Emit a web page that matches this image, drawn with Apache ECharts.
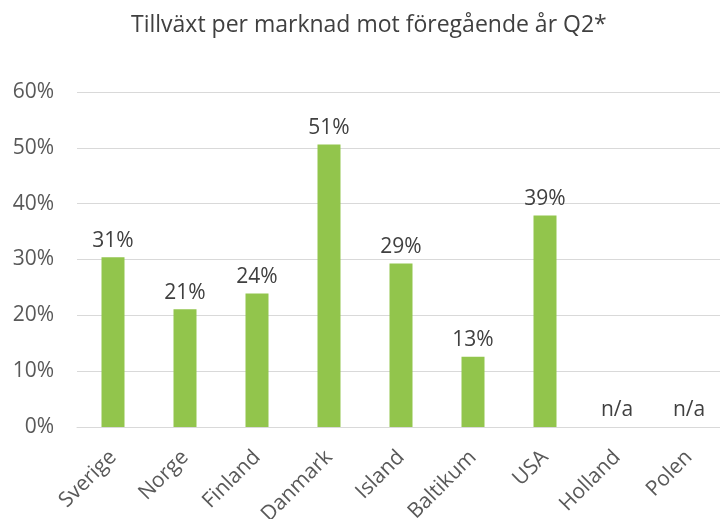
<!DOCTYPE html>
<html>
<head>
<meta charset="utf-8">
<script src="https://cdn.jsdelivr.net/npm/echarts@6/dist/echarts.min.js"></script>
<style>html,body{margin:0;padding:0;background:#fff}#c{width:720px;height:519px}</style>
</head>
<body>
<div id="c"></div>
<script>
const categories = ["Sverige","Norge","Finland","Danmark","Island","Baltikum","USA","Holland","Polen"];
const values = [30.4, 21.1, 23.9, 50.6, 29.3, 12.6, 37.9, 0, 0];
const valueLabels = ["31%","21%","24%","51%","29%","13%","39%","n/a","n/a"];
const yTicks = [0, 10, 20, 30, 40, 50, 60];

const font = '"Open Sans", "Noto Sans", sans-serif';
const chart = echarts.init(document.getElementById('c'), null, {renderer:'canvas'});
chart.setOption({
  animation: false,
  title: {
    text: 'Tillväxt per marknad mot föregående år Q2*',
    left: 126, top: 9,
    textStyle: {fontFamily: font, fontSize: 23, fontWeight: 'normal', color: '#404040'}
  },
  grid: {left: 77, right: -5, top: 92, bottom: 92, containLabel: false, outerBoundsMode: 'none'},
  xAxis: {
    type: 'category', data: categories,
    axisLine: {show: true, lineStyle: {color: '#d9d9d9'}},
    axisTick: {show: false},
    axisLabel: {rotate: 45, interval: 0, margin: 27, fontFamily: font, fontSize: 21, color: '#595959'}
  },
  yAxis: {
    type: 'value', min: yTicks[0], max: yTicks[yTicks.length-1], interval: 10,
    axisLine: {show: false}, axisTick: {show: false},
    splitLine: {lineStyle: {color: '#d9d9d9'}},
    axisLabel: {margin: 23, fontFamily: font, fontSize: 21, color: '#595959', formatter: v => v + '%'}
  },
  series: [{
    type: 'bar', data: values, barWidth: 23,
    itemStyle: {color: '#92c54c'},
    label: {show: true, position: 'top', distance: 6, fontFamily: font, fontSize: 21, color: '#404040',
      formatter: p => valueLabels[p.dataIndex]}
  }]
});
</script>
</body>
</html>
